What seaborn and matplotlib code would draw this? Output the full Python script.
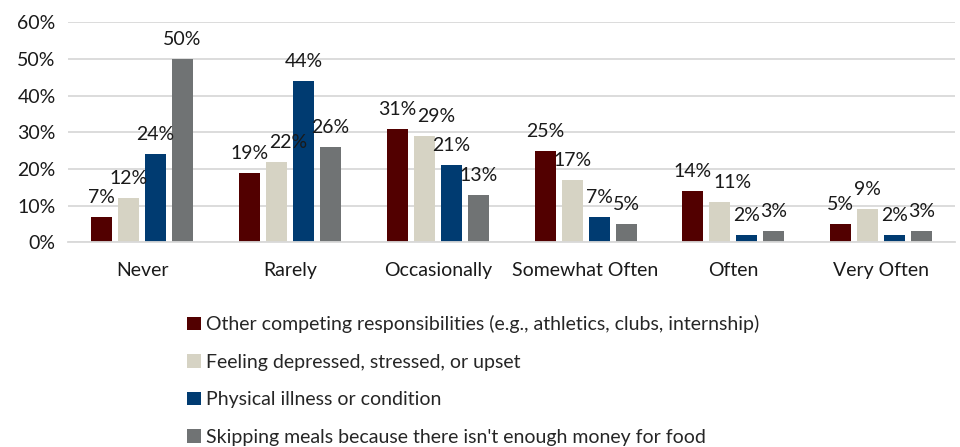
import matplotlib
matplotlib.use("Agg")
import matplotlib.pyplot as plt
import seaborn as sns
import pandas as pd
from matplotlib.patches import Patch

categories = ["Never", "Rarely", "Occasionally", "Somewhat Often", "Often", "Very Often"]
series = [
    "Other competing responsibilities (e.g., athletics, clubs, internship)",
    "Feeling depressed, stressed, or upset",
    "Physical illness or condition",
    "Skipping meals because there isn't enough money for food",
]
other_resp = [7, 19, 31, 25, 14, 5]
depressed = [12, 22, 29, 17, 11, 9]
illness = [24, 44, 21, 7, 2, 2]
skipping = [50, 26, 13, 5, 3, 3]
colors = ["#520000", "#D6D3C4", "#003B71", "#707374"]

values = [other_resp, depressed, illness, skipping]
rows = []
for s, vals in zip(series, values):
    for c, v in zip(categories, vals):
        rows.append({"cat": c, "series": s, "val": v})
df = pd.DataFrame(rows)

sns.set_style("white")
plt.rcParams["font.family"] = ["Lato", "DejaVu Sans"]
FS = 14
TC = "#1a1a1a"
DPI = 100

fig = plt.figure(figsize=(9.6, 4.47), dpi=DPI)
ax = fig.add_axes([0.071, 0.458, 0.924, 0.492])

sns.barplot(data=df, x="cat", y="val", hue="series", order=categories,
            hue_order=series, palette=colors, width=0.73, ax=ax,
            legend=False, saturation=1, edgecolor="none")

for patch in ax.patches:
    w = patch.get_width()
    cx = patch.get_x() + w / 2
    patch.set_width(w * 0.78)
    patch.set_x(cx - w * 0.78 / 2)

all_labels = []
for cont in ax.containers:
    texts = ax.bar_label(cont, labels=[f"{int(round(v))}%" for v in cont.datavalues],
                         padding=8, fontsize=FS, color=TC)
    all_labels.append(texts)

ax.set_ylim(0, 60)
ax.set_yticks(range(0, 61, 10))
ax.set_yticklabels([f"{t}%" for t in range(0, 61, 10)], fontsize=FS, color=TC)
ax.tick_params(axis="x", labelsize=FS, colors=TC, length=0, pad=14)
ax.tick_params(axis="y", length=0, pad=9)
ax.set_xlabel("")
ax.set_ylabel("")
ax.yaxis.grid(True, color="#D9D9D9", linewidth=1.3)
ax.set_axisbelow(True)
for sp in ["top", "right", "left"]:
    ax.spines[sp].set_visible(False)
ax.spines["bottom"].set_color("#D9D9D9")
ax.spines["bottom"].set_linewidth(1.3)
ax.set_xlim(-0.5, len(categories) - 0.5)

# resolve overlapping labels within each group: nudge later label right
fig.canvas.draw()
renderer = fig.canvas.get_renderer()
for gi in range(len(categories)):
    prev = None
    for si in range(len(series)):
        t = all_labels[si][gi]
        if prev is not None:
            bb = t.get_window_extent(renderer)
            pb = prev.get_window_extent(renderer)
            if bb.x0 < pb.x1 and bb.y0 < pb.y1 and bb.y1 > pb.y0:
                dx_px = pb.x1 - bb.x0 + 1
                x, y = t.get_position()  # offset in points
                t.set_x(x + dx_px * 72.0 / DPI)
        prev = t

handles = [Patch(facecolor=c, edgecolor="none") for c in colors]
fig.legend(handles, series, loc="upper left", bbox_to_anchor=(0.187, 0.312),
           frameon=False, fontsize=FS, handlelength=0.7, handleheight=0.7,
           handletextpad=0.25, labelspacing=1.05, borderaxespad=0)

fig.savefig("out.png", dpi=DPI)
